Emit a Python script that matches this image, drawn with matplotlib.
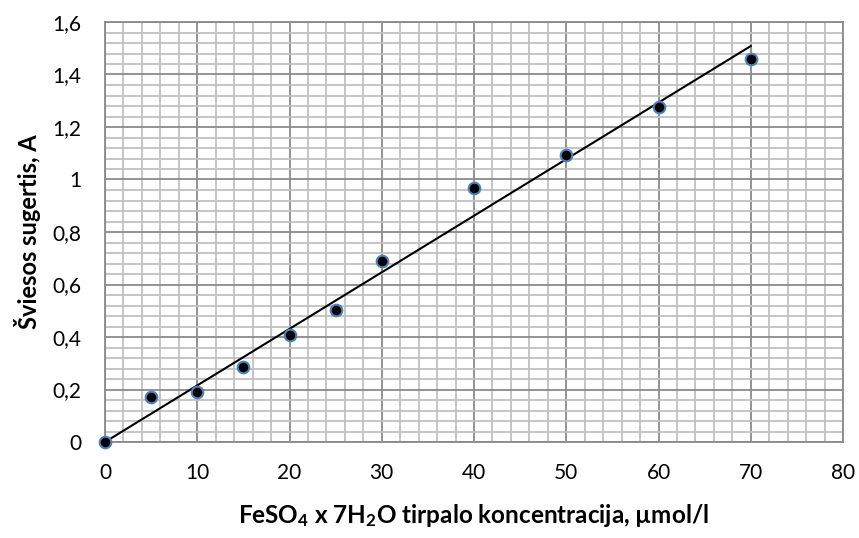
import numpy as np
import matplotlib
matplotlib.use("Agg")
import matplotlib.pyplot as plt
from matplotlib.ticker import MultipleLocator, FuncFormatter

conc = [0, 5, 10, 15, 20, 25, 30, 40, 50, 60, 70]
absorb = [0.0, 0.171, 0.19, 0.286, 0.408, 0.503, 0.69, 0.968, 1.093, 1.276, 1.459]

plt.rcParams['font.family'] = ['Lato', 'DejaVu Sans']
plt.rcParams['mathtext.fontset'] = 'custom'
plt.rcParams['mathtext.bf'] = 'Lato:bold'
plt.rcParams['mathtext.rm'] = 'Lato:bold'

fig = plt.figure(figsize=(8.59, 5.38), dpi=100)
ax = fig.add_axes([105/859, 1-442/538, (843-105)/859, (442-22)/538])

ax.set_xlim(0, 80)
ax.set_ylim(0, 1.6)
ax.xaxis.set_major_locator(MultipleLocator(10))
ax.xaxis.set_minor_locator(MultipleLocator(2))
ax.yaxis.set_major_locator(MultipleLocator(0.2))
ax.yaxis.set_minor_locator(MultipleLocator(0.04))
ax.grid(which='minor', color='#c0c0c0', linewidth=1.3)
ax.grid(which='major', color='#8a8a8a', linewidth=1.3)
ax.set_axisbelow(True)
ax.tick_params(which='both', length=0, labelsize=15)
ax.tick_params(axis='x', pad=15)
ax.tick_params(axis='y', pad=17)
ax.yaxis.set_major_formatter(FuncFormatter(lambda v, p: f"{v:.1f}".rstrip('0').rstrip('.').replace('.', ',') if v != 0 else '0'))
for s in ax.spines.values():
    s.set_color('#8a8a8a')
    s.set_linewidth(1.3)

x = np.array(conc, dtype=float)
y = np.array(absorb)
slope = np.sum(x * y) / np.sum(x * x)
xl = np.array([0, max(conc)])
ax.plot(xl, slope * xl, color='black', linewidth=1.5, zorder=3)
ax.scatter(conc, absorb, s=70, c='black', edgecolors='#4F81BD', linewidths=1.5, zorder=4, clip_on=False)

ax.set_xlabel(r'FeSO$\mathbf{_4}$ x 7H$\mathbf{_2}$O tirpalo koncentracija, µmol/l', fontsize=17.5, fontweight='bold', labelpad=14)
ax.set_ylabel('Šviesos sugertis, A', fontsize=17, fontweight='bold', labelpad=8)

fig.savefig('out.png', dpi=100)
